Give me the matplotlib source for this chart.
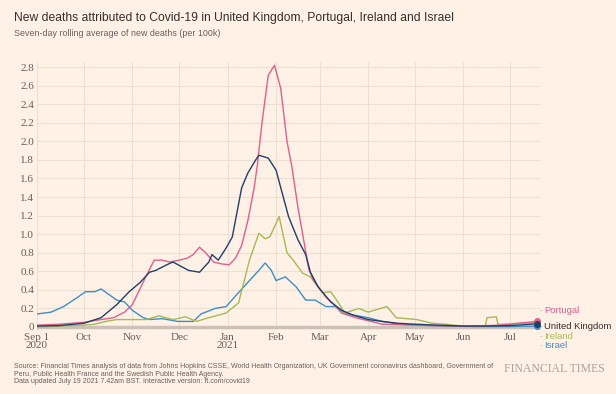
import matplotlib.pyplot as plt
import pandas as pd

# values (7-day avg deaths per 100k)
pt_dates = ["2020-09-01", "2020-09-15", "2020-10-01", "2020-10-12", "2020-10-20", "2020-10-27",
            "2020-11-01", "2020-11-07", "2020-11-12", "2020-11-15", "2020-11-20", "2020-11-25",
            "2020-12-01", "2020-12-06", "2020-12-10", "2020-12-14", "2020-12-18", "2020-12-23",
            "2020-12-28", "2021-01-02", "2021-01-06", "2021-01-10", "2021-01-14", "2021-01-18",
            "2021-01-20", "2021-01-23", "2021-01-27", "2021-01-31", "2021-02-04", "2021-02-08",
            "2021-02-11", "2021-02-15", "2021-02-22", "2021-02-25", "2021-03-05", "2021-03-09",
            "2021-03-15", "2021-03-24", "2021-04-10", "2021-04-20", "2021-05-10", "2021-06-05",
            "2021-06-25", "2021-07-05", "2021-07-12", "2021-07-18"]
pt_vals = [0.02, 0.03, 0.05, 0.08, 0.10, 0.16,
           0.24, 0.45, 0.62, 0.72, 0.72, 0.70,
           0.72, 0.74, 0.78, 0.86, 0.80, 0.70,
           0.68, 0.67, 0.74, 0.88, 1.15, 1.50,
           1.74, 2.20, 2.71, 2.82, 2.57, 2.00,
           1.74, 1.29, 0.62, 0.50, 0.32, 0.26,
           0.15, 0.10, 0.03, 0.025, 0.015, 0.01,
           0.02, 0.04, 0.05, 0.06]

uk_dates = ["2020-09-01", "2020-09-15", "2020-10-01", "2020-10-12", "2020-10-22", "2020-10-30",
            "2020-11-06", "2020-11-12", "2020-11-16", "2020-11-23", "2020-11-27", "2020-12-07",
            "2020-12-14", "2020-12-20", "2020-12-22", "2020-12-26", "2020-12-31", "2021-01-04",
            "2021-01-10", "2021-01-14", "2021-01-19", "2021-01-21", "2021-01-27", "2021-02-01",
            "2021-02-05", "2021-02-09", "2021-02-15", "2021-02-20", "2021-02-23", "2021-02-28",
            "2021-03-08", "2021-03-15", "2021-03-22", "2021-04-01", "2021-04-10", "2021-04-20",
            "2021-05-01", "2021-05-15", "2021-06-01", "2021-06-15", "2021-07-01", "2021-07-10",
            "2021-07-18"]
uk_vals = [0.01, 0.015, 0.04, 0.10, 0.24, 0.38,
           0.48, 0.59, 0.61, 0.67, 0.70, 0.61,
           0.59, 0.70, 0.78, 0.72, 0.85, 0.97,
           1.50, 1.66, 1.80, 1.85, 1.82, 1.69,
           1.44, 1.19, 0.94, 0.78, 0.59, 0.43,
           0.27, 0.18, 0.13, 0.08, 0.06, 0.04,
           0.03, 0.02, 0.01, 0.01, 0.015, 0.025,
           0.035]

ie_dates = ["2020-09-01", "2020-09-15", "2020-10-01", "2020-10-08", "2020-10-15", "2020-10-22",
            "2020-11-01", "2020-11-10", "2020-11-18", "2020-11-27", "2020-12-05", "2020-12-12",
            "2020-12-20", "2020-12-31", "2021-01-08", "2021-01-15", "2021-01-21", "2021-01-25",
            "2021-01-28", "2021-02-03", "2021-02-08", "2021-02-12", "2021-02-18", "2021-02-23",
            "2021-03-03", "2021-03-08", "2021-03-13", "2021-03-17", "2021-03-26", "2021-04-01",
            "2021-04-13", "2021-04-19", "2021-05-02", "2021-05-12", "2021-05-20", "2021-06-01",
            "2021-06-15", "2021-06-16", "2021-06-22", "2021-06-23", "2021-07-01", "2021-07-10",
            "2021-07-18"]
ie_vals = [0.0, 0.01, 0.02, 0.03, 0.06, 0.08,
           0.08, 0.08, 0.12, 0.08, 0.11, 0.06,
           0.10, 0.15, 0.26, 0.72, 1.01, 0.95,
           0.97, 1.19, 0.80, 0.72, 0.58, 0.54,
           0.37, 0.38, 0.26, 0.15, 0.20, 0.16,
           0.22, 0.10, 0.08, 0.04, 0.03, 0.01,
           0.01, 0.10, 0.11, 0.03, 0.03, 0.04,
           0.05]

il_dates = ["2020-09-01", "2020-09-10", "2020-09-18", "2020-09-27", "2020-10-02", "2020-10-08",
            "2020-10-12", "2020-10-17", "2020-10-22", "2020-10-27", "2020-11-01", "2020-11-08",
            "2020-11-12", "2020-11-20", "2020-11-30", "2020-12-10", "2020-12-15", "2020-12-24",
            "2020-12-31", "2021-01-08", "2021-01-15", "2021-01-21", "2021-01-25", "2021-01-29",
            "2021-02-01", "2021-02-07", "2021-02-14", "2021-02-20", "2021-02-26", "2021-03-05",
            "2021-03-11", "2021-03-17", "2021-03-22", "2021-04-01", "2021-04-10", "2021-04-21",
            "2021-05-05", "2021-05-20", "2021-06-10", "2021-07-01", "2021-07-18"]
il_vals = [0.14, 0.16, 0.22, 0.32, 0.38, 0.38,
           0.41, 0.35, 0.29, 0.27, 0.18, 0.10,
           0.08, 0.09, 0.06, 0.06, 0.14, 0.20,
           0.22, 0.37, 0.50, 0.61, 0.69, 0.61,
           0.50, 0.54, 0.43, 0.29, 0.29, 0.22,
           0.22, 0.15, 0.13, 0.10, 0.06, 0.03,
           0.02, 0.01, 0.005, 0.005, 0.01]

month_ticks = ["2020-09-01", "2020-10-01", "2020-11-01", "2020-12-01", "2021-01-01", "2021-02-01",
               "2021-03-01", "2021-04-01", "2021-05-01", "2021-06-01", "2021-07-01"]
month_labels = ["Sep 1\n2020", "Oct", "Nov", "Dec", "Jan\n2021", "Feb", "Mar", "Apr", "May", "Jun", "Jul"]
y_ticks = [0, 0.2, 0.4, 0.6, 0.8, 1.0, 1.2, 1.4, 1.6, 1.8, 2.0, 2.2, 2.4, 2.6, 2.8]
y_labels = ["0", "0.2", "0.4", "0.6", "0.8", "1.0", "1.2", "1.4", "1.6", "1.8", "2.0",
            "2.2", "2.4", "2.6", "2.8"]

bg = "#fff1e5"
grid_c = "#ece0d3"
tick_c = "#66605c"

# name, dates, values, line colour, label colour, label y (data units)
series = [
    ("Israel", il_dates, il_vals, "#3d8fc6", "#3d8fc6", -0.2),
    ("Ireland", ie_dates, ie_vals, "#a5ba55", "#a5ba55", -0.1),
    ("Portugal", pt_dates, pt_vals, "#e0608c", "#e0608c", 0.175),
    ("United Kingdom", uk_dates, uk_vals, "#1f3f6b", "#33302e", 0.0),
]

fig = plt.figure(figsize=(6.16, 3.94), dpi=100, facecolor=bg)
ax = fig.add_axes([0.0601, 0.163, 0.8166, 0.6785], facecolor=bg)

for name, d, v, col, tcol, ly in series:
    dd = pd.to_datetime(d)
    ax.plot(dd, v, color=col, lw=1.0, zorder=3, solid_joinstyle="round")
    ax.plot(dd[-1:], v[-1:], "o", color=col, ms=4, zorder=4)
    ax.text(1.0, ly, "-", transform=ax.get_yaxis_transform(), color="#ccc1b7",
            fontsize=6, va="center", ha="left", clip_on=False)
    ax.text(1.008, ly, name, transform=ax.get_yaxis_transform(), color=tcol,
            fontsize=6.8, va="center", ha="left", family="Liberation Sans", clip_on=False)

ax.axhline(0, color="#ccc1b7", lw=2.5, zorder=2)

ax.set_xlim(pd.Timestamp("2020-09-01"), pd.Timestamp("2021-07-20"))
ax.set_ylim(-0.03, 2.85)
ax.set_xticks(pd.to_datetime(month_ticks))
ax.set_xticklabels(month_labels, linespacing=0.85)
ax.set_yticks(y_ticks)
ax.set_yticklabels(y_labels)
ax.grid(True, color=grid_c, lw=0.8, zorder=0)
for s in ax.spines.values():
    s.set_visible(False)
ax.tick_params(length=0, colors=tick_c, labelsize=8, pad=2)
for lab in ax.get_xticklabels() + ax.get_yticklabels():
    lab.set_family("Liberation Serif")

fig.text(0.023, 0.955, "New deaths attributed to Covid-19 in United Kingdom, Portugal, Ireland and Israel",
         fontsize=8.7, color="#33302e", family="Liberation Sans", va="center")
fig.text(0.023, 0.915, "Seven-day rolling average of new deaths (per 100k)",
         fontsize=6.4, color=tick_c, family="Liberation Sans", va="center")

fig.text(0.023, 0.05, "Source: Financial Times analysis of data from Johns Hopkins CSSE, World Health Organization, "
         "UK Government coronavirus dashboard, Government of\nPeru, Public Health France and the Swedish Public "
         "Health Agency.\nData updated July 19 2021 7.42am BST. Interactive version: ft.com/covid19",
         fontsize=5, color=tick_c, family="Liberation Sans", va="center", linespacing=1.1)
fig.text(0.982, 0.063, "FINANCIAL TIMES", fontsize=8.5, color="#aaa39c", family="Liberation Serif",
         va="center", ha="right")

fig.savefig("out.png", dpi=100, facecolor=bg)
